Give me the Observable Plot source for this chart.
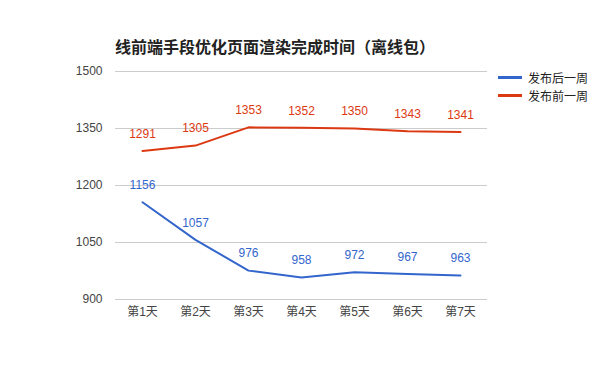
<!DOCTYPE html>
<html><head><meta charset="utf-8">
<script src="https://cdn.jsdelivr.net/npm/d3@7"></script>
<script src="https://cdn.jsdelivr.net/npm/@observablehq/plot@0.6"></script>
<style>
body{margin:0;background:#fff;font-family:"Liberation Sans","Noto Sans CJK SC",sans-serif;}
#wrap{position:relative;width:600px;height:371px;}
#title{position:absolute;left:115px;top:34px;font-size:16px;font-weight:bold;color:#222;white-space:nowrap;}
.leg{position:absolute;left:498px;font-size:12px;color:#222;display:flex;align-items:center;}
.leg span.sw{display:inline-block;width:24px;height:3px;margin-right:6px;}
</style></head>
<body><div id="wrap"><div id="chart"></div><div id="title"></div><div id="legend"></div></div>
<script>
const days = ["第1天","第2天","第3天","第4天","第5天","第6天","第7天"];
const seriesNames = ["发布后一周","发布前一周"];
const after = [1156,1057,976,958,972,967,963];
const before = [1291,1305,1353,1352,1350,1343,1341];
const yTicks = [900,1050,1200,1350,1500];
const colors = ["#3366cc","#dc3912"];
const titleText = "线前端手段优化页面渲染完成时间（离线包）";

const data = [];
days.forEach((d,i)=>{
  data.push({day:d, series:seriesNames[0], value:after[i]});
  data.push({day:d, series:seriesNames[1], value:before[i]});
});

const chart = Plot.plot({
  width:600, height:371,
  marginTop:71, marginBottom:72, marginLeft:115, marginRight:113,
  style:{fontFamily:'"Liberation Sans","Noto Sans CJK SC",sans-serif', fontSize:"12px", color:"#444", background:"#fff"},
  x:{type:"point", domain:days, padding:0.5, label:null, tickSize:0, tickPadding:8},
  y:{domain:[900,1500], ticks:yTicks, tickFormat:d=>String(d), label:null, tickSize:0, tickPadding:13, grid:false},
  color:{domain:seriesNames, range:colors},
  marks:[
    Plot.ruleY(yTicks,{stroke:"#cccccc", strokeWidth:1}),
    Plot.line(data,{x:"day", y:"value", z:"series", stroke:"series", strokeWidth:2}),
    Plot.text(data,{x:"day", y:"value", text:d=>String(d.value), fill:"series", dy:-17, fontSize:12})
  ]
});
document.getElementById("chart").appendChild(chart);
document.getElementById("title").textContent = titleText;
const leg = document.getElementById("legend");
seriesNames.forEach((s,i)=>{
  const div=document.createElement("div");
  div.className="leg";
  div.style.top=(69+i*18)+"px";
  div.innerHTML=`<span class="sw" style="background:${colors[i]}"></span>${s}`;
  leg.appendChild(div);
});
</script></body></html>
